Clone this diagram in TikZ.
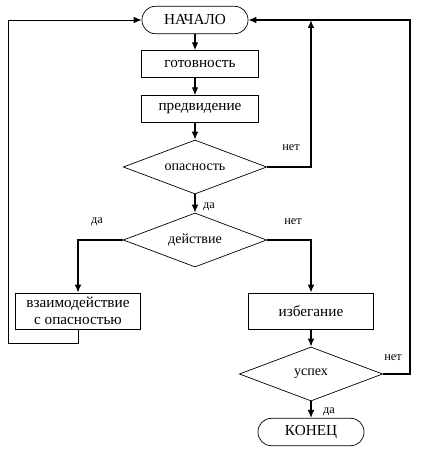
\documentclass[tikz,border=0pt]{standalone}
\usepackage{fontspec}
\setmainfont{Liberation Serif}
\usetikzlibrary{shapes.geometric,arrows.meta}
\begin{document}
\begin{tikzpicture}[x=0.03cm,y=-0.03cm,
        blok/.style={draw,line width=0.6pt,minimum width=3.5cm,minimum height=0.8cm,inner sep=1pt,font=\fontsize{13}{14}\selectfont},
        romb/.style={draw,diamond,aspect=2.6,line width=0.6pt,minimum width=4.3cm,minimum height=1.62cm,inner sep=0pt,font=\fontsize{12}{13}\selectfont},
        term/.style={draw,line width=0.6pt,rounded corners=0.4cm,minimum width=3.18cm,minimum height=0.82cm,font=\fontsize{13}{14}\selectfont},
        metka/.style={font=\fontsize{10.5}{11}\selectfont,inner sep=1pt},
        sv/.style={line width=1.1pt,-{Latex[length=2.4mm,width=2mm]}}]
        \useasboundingbox (0,0) rectangle (420,450);
        % blocks
        \node[term] (nach) at (195,20) {НАЧАЛО};
        \node[blok] (gotov) at (200,64) {готовность};
        \node[blok] (predv) at (200,109) {предвидение};
        \node[romb] (opas) at (195,167) {опасность};
        \node[romb] (deist) at (195,240) {действие};
        \node[blok,minimum width=3.75cm,minimum height=1.08cm,align=center] (vzaim) at (78,311) {взаимодействие\\с опасностью};
        \node[blok,minimum width=3.75cm,minimum height=1.08cm] (izb) at (311,311) {избегание};
        \node[romb] (usp) at (311,374) {успех};
        \node[term] (konec) at (311,432) {КОНЕЦ};
        % labels
        \node[metka] (net1) at (291,148) {нет};
        \node[metka] (da1) at (209,207) {да};
        \node[metka] (da2) at (97,222) {да};
        \node[metka] (net2) at (293,222) {нет};
        \node[metka] (net3) at (393,358) {нет};
        \node[metka] (da3) at (329,412) {да};
        \coordinate (lv) at (8,343);
        \coordinate (pr) at (410,374);
        % arrows
        \draw[sv] (nach.south) -- (nach.south |- gotov.north);
        \draw[sv] (nach.south |- gotov.south) -- (nach.south |- predv.north);
        \draw[sv] (nach.south |- predv.south) -- (opas.north);
        \draw[sv] (opas.south) -- (deist.north);
        \draw[sv] (opas.east) -| (izb |- nach);
        \draw[sv] (deist.west) -| (vzaim.north);
        \draw[sv] (deist.east) -| (izb.north);
        \draw[sv] (izb.south) -- (usp.north);
        \draw[sv] (usp.south) -- (konec.north);
        \draw[sv] (usp.east) -- (pr) |- (nach.east);
        \draw[sv,line width=0.8pt] (vzaim.south) |- (lv) |- (nach.west);
\end{tikzpicture}
\end{document}
